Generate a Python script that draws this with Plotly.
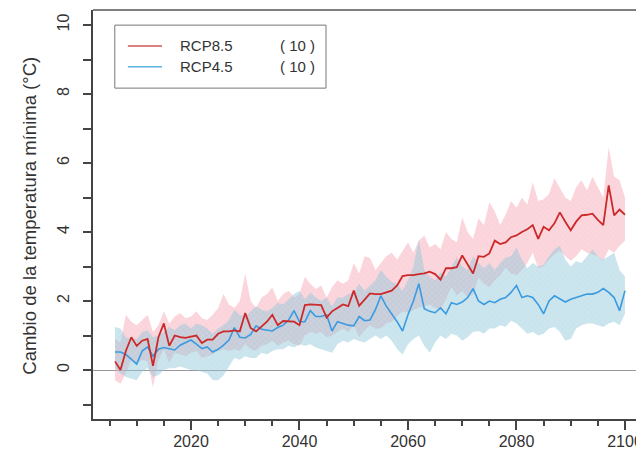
import plotly.graph_objects as go

years = list(range(2006, 2101))

rcp85_mean = [0.25, 0.00, 0.55, 0.95, 0.70, 0.85, 0.90, 0.12, 0.95, 1.35,
              0.70, 1.00, 0.95, 0.93, 0.97, 1.00, 0.78, 0.88, 0.88, 1.05,
              1.12, 1.12, 1.15, 1.12, 1.65, 1.22, 1.12, 1.25, 1.40, 1.60,
              1.30, 1.42, 1.40, 1.40, 1.30, 1.88, 1.90, 1.88, 1.88, 1.52,
              1.70, 1.80, 1.90, 1.85, 2.30, 1.86, 2.05, 2.22, 2.20, 2.20,
              2.25, 2.30, 2.45, 2.72, 2.75, 2.75, 2.78, 2.80, 2.85, 2.78,
              2.62, 2.95, 2.95, 2.98, 3.32, 3.05, 2.80, 3.30, 3.28, 3.38,
              3.75, 3.65, 3.70, 3.85, 3.90, 4.00, 4.08, 4.20, 3.80, 4.15,
              4.05, 4.25, 4.57, 4.30, 4.05, 4.30, 4.48, 4.50, 4.53, 4.35,
              4.20, 5.35, 4.48, 4.65, 4.50]

rcp85_high = [0.90, 0.80, 1.60, 1.40, 1.30, 1.45, 1.60, 1.10, 1.30, 1.70,
              1.35, 1.55, 1.65, 1.50, 1.55, 1.70, 1.50, 1.45, 1.60, 1.80,
              2.20, 1.90, 1.80, 2.00, 2.80, 2.00, 1.80, 2.10, 2.20, 2.40,
              2.00, 2.20, 2.30, 2.10, 2.20, 2.70, 2.50, 2.35, 2.45, 2.10,
              2.40, 2.60, 2.50, 2.60, 3.10, 2.80, 3.30, 3.25, 2.90, 3.10,
              3.30, 3.40, 3.20, 3.45, 3.70, 3.40, 3.75, 3.90, 3.55, 3.65,
              3.50, 4.00, 3.80, 3.70, 4.43, 4.00, 3.80, 4.40, 4.20, 4.86,
              4.60, 4.20, 4.50, 4.90, 4.70, 5.00, 4.80, 5.44, 4.90, 4.95,
              5.10, 5.56, 5.30, 5.00, 4.90, 5.30, 5.50, 5.20, 5.60, 5.30,
              5.00, 6.46, 5.60, 5.50, 5.00]

rcp85_low = [-0.30, -0.40, -0.10, 0.30, 0.20, 0.30, 0.25, -0.50, 0.30, 0.60,
             0.20, 0.50, 0.45, 0.40, 0.50, 0.55, 0.35, 0.40, 0.45, 0.55,
             0.60, 0.55, 0.60, 0.55, 0.75, 0.60, 0.55, 0.70, 0.75, 0.85,
             0.70, 0.80, 0.85, 0.75, 0.70, 1.00, 1.10, 1.05, 1.10, 0.95,
             1.00, 1.10, 1.20, 1.10, 1.30, 0.95, 1.15, 1.30, 1.20, 1.20,
             1.35, 1.40, 1.55, 1.70, 1.65, 1.75, 1.80, 1.85, 1.90, 1.80,
             1.75, 2.05, 2.40, 2.15, 2.30, 2.10, 2.20, 2.68, 2.50, 2.40,
             2.60, 2.75, 2.97, 2.80, 2.75, 2.90, 3.10, 3.40, 2.95, 3.00,
             3.20, 3.35, 3.45, 3.30, 3.17, 3.30, 3.50, 3.40, 3.35, 3.30,
             3.17, 3.50, 3.40, 3.60, 3.75]

rcp45_mean = [0.52, 0.52, 0.45, 0.30, 0.17, 0.55, 0.67, 0.40, 0.60, 0.65,
              0.62, 0.58, 0.72, 0.80, 0.87, 0.75, 0.62, 0.67, 0.52, 0.60,
              0.72, 0.87, 1.23, 0.95, 0.93, 1.03, 1.28, 1.18, 1.15, 1.13,
              1.23, 1.30, 1.45, 1.72, 1.40, 1.40, 1.72, 1.55, 1.55, 1.60,
              1.13, 1.40, 1.35, 1.30, 1.28, 1.55, 1.43, 1.45, 1.75, 2.15,
              1.85, 1.63, 1.40, 1.13, 1.60, 2.00, 2.50, 1.78, 1.70, 1.66,
              1.80, 1.63, 1.95, 1.90, 1.97, 2.10, 2.36, 2.00, 1.90, 2.00,
              1.95, 2.05, 2.10, 2.25, 2.45, 2.10, 2.15, 2.10, 1.90, 1.63,
              2.00, 2.15, 2.05, 1.97, 2.05, 2.10, 2.15, 2.20, 2.20, 2.25,
              2.36, 2.25, 2.10, 1.72, 2.30]

rcp45_high = [1.25, 1.20, 0.95, 0.90, 0.90, 1.10, 1.15, 0.95, 1.00, 1.10,
              1.25, 1.15, 1.30, 1.35, 1.20, 1.35, 1.30, 1.20, 1.05, 1.20,
              1.30, 1.45, 1.75, 1.60, 1.55, 1.70, 1.85, 1.75, 1.70, 1.80,
              1.95, 1.90, 2.05, 2.20, 2.30, 2.05, 2.25, 2.10, 2.00, 2.10,
              1.85, 2.10, 2.10, 2.20, 2.25, 2.50, 2.30, 2.45, 2.60, 2.90,
              2.70, 2.55, 2.50, 2.30, 2.60, 3.00, 3.80, 2.90, 2.70, 2.60,
              2.85, 2.70, 3.00, 3.26, 3.00, 2.90, 3.30, 3.10, 2.95, 3.10,
              2.90, 3.10, 3.26, 3.30, 3.55, 3.20, 2.95, 3.10, 3.00, 3.05,
              3.30, 3.50, 3.60, 3.20, 3.00, 3.15, 3.10, 3.30, 3.50, 3.30,
              3.20, 3.30, 3.40, 2.90, 2.70]

rcp45_low = [0.05, -0.10, -0.20, -0.25, -0.30, -0.05, 0.05, -0.20, -0.15, 0.00,
             0.05, 0.05, 0.10, 0.05, 0.00, 0.00, -0.05, -0.10, -0.30, -0.30,
             -0.15, 0.10, 0.35, 0.30, 0.40, 0.35, 0.35, 0.50, 0.45, 0.55,
             0.60, 0.60, 0.70, 0.65, 0.75, 0.70, 0.75, 0.65, 0.60, 0.55,
             0.50, 0.75, 0.85, 0.80, 0.90, 0.84, 0.80, 0.90, 1.00, 0.90,
             1.00, 0.85, 0.60, 0.45, 0.75, 0.90, 1.00, 0.70, 0.50, 0.80,
             1.00, 0.90, 1.05, 1.00, 0.85, 0.95, 1.10, 1.13, 1.05, 1.20,
             1.20, 1.30, 1.25, 1.43, 1.35, 1.20, 1.05, 1.10, 1.00, 1.05,
             1.20, 1.25, 1.10, 0.85, 0.90, 1.20, 1.30, 1.35, 1.35, 1.30,
             1.25, 1.35, 1.40, 1.30, 1.63]

legend_names = ["RCP8.5", "RCP4.5"]
legend_counts = ["( 10 )", "( 10 )"]
y_title = "Cambio de la temperatura mínima (°C)"
x_ticks = [2020, 2040, 2060, 2080, 2100]
y_ticks = [0, 2, 4, 6, 8, 10]

FONT = "Liberation Sans, Arial, Helvetica, sans-serif"
RED = "#cc2a2a"
BLUE = "#3a9be0"
RED_FILL = "rgba(246,160,176,0.45)"
BLUE_FILL = "rgba(135,195,215,0.45)"

fig = go.Figure()

# uncertainty bands
fig.add_trace(go.Scatter(x=years, y=rcp85_low, mode="lines", line=dict(width=0),
                         hoverinfo="skip", showlegend=False))
fig.add_trace(go.Scatter(x=years, y=rcp85_high, mode="lines", line=dict(width=0),
                         fill="tonexty", fillcolor=RED_FILL,
                         fillpattern=dict(shape="x", size=4, solidity=0.15,
                                          fgcolor="rgba(255,255,255,0.6)", fillmode="overlay"),
                         hoverinfo="skip", showlegend=False))
fig.add_trace(go.Scatter(x=years, y=rcp45_low, mode="lines", line=dict(width=0),
                         hoverinfo="skip", showlegend=False))
fig.add_trace(go.Scatter(x=years, y=rcp45_high, mode="lines", line=dict(width=0),
                         fill="tonexty", fillcolor=BLUE_FILL,
                         fillpattern=dict(shape="x", size=4, solidity=0.15,
                                          fgcolor="rgba(255,255,255,0.6)", fillmode="overlay"),
                         hoverinfo="skip", showlegend=False))

# mean lines
fig.add_trace(go.Scatter(x=years, y=rcp45_mean, mode="lines", line=dict(color=BLUE, width=1.6),
                         name=legend_names[1], showlegend=False))
fig.add_trace(go.Scatter(x=years, y=rcp85_mean, mode="lines", line=dict(color=RED, width=1.8),
                         name=legend_names[0], showlegend=False))

# frame: top (dark) and right (light)
fig.add_shape(type="line", xref="paper", yref="paper", x0=0, x1=1, y0=1, y1=1,
              line=dict(color="#555555", width=1.5))
fig.add_shape(type="line", xref="paper", yref="paper", x0=1, x1=1, y0=0, y1=1,
              line=dict(color="#cccccc", width=1))

# legend box (drawn manually)
fig.add_shape(type="rect", xref="paper", yref="paper", x0=0.040, x1=0.4275, y0=0.809, y1=0.963,
              line=dict(color="#777777", width=1), fillcolor="rgba(0,0,0,0)")
legend_cols = ["#d05555", "#5ab3e0"]
legend_y = [0.912, 0.861]
for name, cnt, col, yy in zip(legend_names, legend_counts, legend_cols, legend_y):
    fig.add_shape(type="line", xref="paper", yref="paper", x0=0.064, x1=0.1266, y0=yy, y1=yy,
                  line=dict(color=col, width=1.5))
    fig.add_annotation(xref="paper", yref="paper", x=0.156, y=yy, text=name, showarrow=False,
                       xanchor="left", yanchor="middle",
                       font=dict(family=FONT, size=15, color="#333333"))
    fig.add_annotation(xref="paper", yref="paper", x=0.339, y=yy, text=cnt, showarrow=False,
                       xanchor="left", yanchor="middle",
                       font=dict(family=FONT, size=15, color="#333333"))

# y axis title
fig.add_annotation(xref="paper", yref="paper", x=-0.1156, y=0.497, text=y_title, textangle=-90,
                   showarrow=False, xanchor="center", yanchor="middle",
                   font=dict(family=FONT, size=18.5, color="#333333"))

fig.update_layout(
    width=644, height=452,
    margin=dict(l=85, r=14, t=2, b=41),
    paper_bgcolor="white", plot_bgcolor="white",
    font=dict(family=FONT, size=16, color="#333333"),
    showlegend=False,
    xaxis=dict(range=[2001.94, 2102.4], tickvals=x_ticks, automargin=False,
               ticks="outside", ticklen=9, tickcolor="#444444", tickwidth=1.5,
               minor=dict(ticks="outside", ticklen=5, dtick=5, tick0=2005, tickcolor="#444444"),
               showline=True, linecolor="#444444", linewidth=2,
               showgrid=False, zeroline=False, ticklabelstandoff=-2,
               tickfont=dict(size=16)),
    yaxis=dict(range=[-1.42, 10.435], tickvals=y_ticks, tickangle=-90, automargin=False,
               ticks="outside", ticklen=8, tickcolor="#444444", tickwidth=1.5,
               minor=dict(ticks="outside", ticklen=8, dtick=1, tick0=1, tickcolor="#444444"),
               showline=True, linecolor="#444444", linewidth=1.5,
               showgrid=False, zeroline=True, zerolinecolor="#999999", zerolinewidth=1,
               ticklabelstandoff=8, tickfont=dict(size=16)),
)

fig.write_html("out.html")
